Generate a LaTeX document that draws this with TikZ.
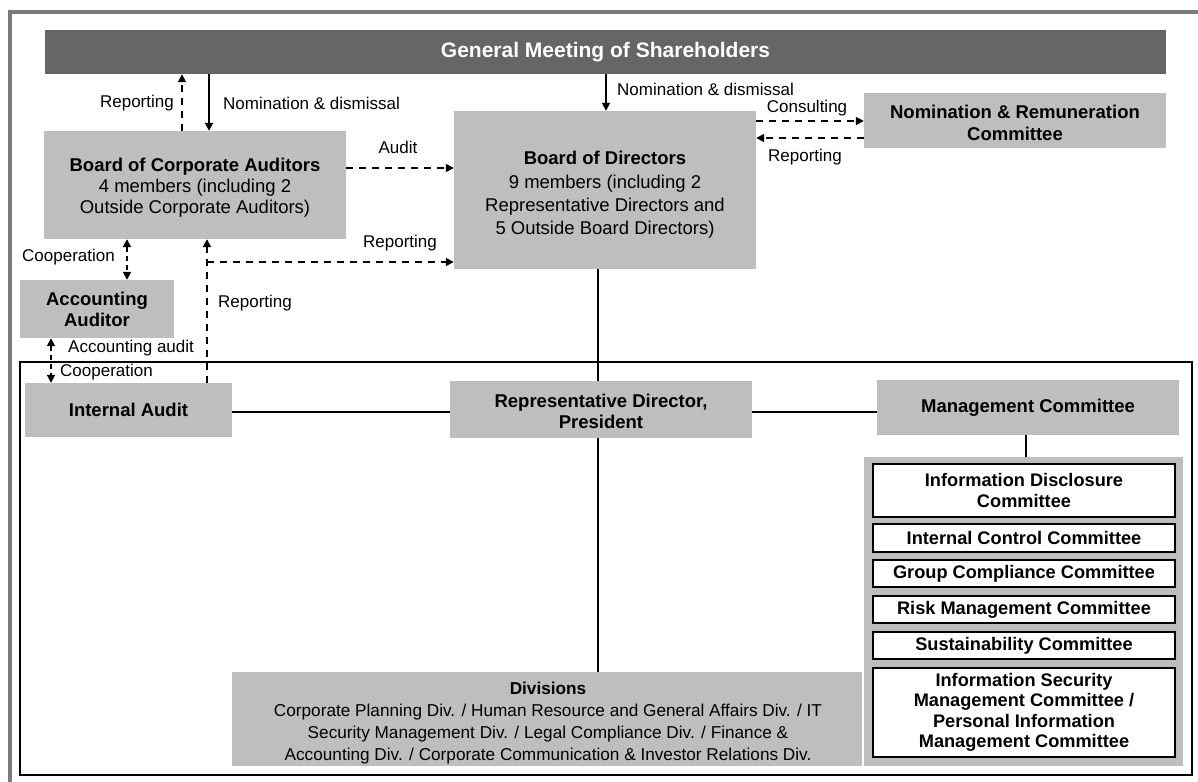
\documentclass[tikz,border=0pt]{standalone}
\usepackage{fontspec}
\setmainfont{Liberation Sans}
\usetikzlibrary{arrows.meta,calc}

\definecolor{boxgray}{HTML}{BEBEBE}
\definecolor{headgray}{HTML}{666666}
\definecolor{framegray}{HTML}{7A7A7A}

\begin{document}
\begin{tikzpicture}[x=1pt,y=-1pt,
  box/.style={fill=boxgray, inner sep=0pt, align=center,
    font=\fontsize{18.5}{21}\selectfont},
  boxtext/.style={inner sep=0pt, align=center, font=\fontsize{18.5}{21}\selectfont},
  cbox/.style={fill=white, draw=black, line width=1.6, inner sep=0pt,
    align=center, minimum width=302, font=\fontsize{18.2}{20.5}\selectfont\bfseries},
  lbl/.style={inner sep=0pt, font=\fontsize{17}{20}\selectfont},
  link/.style={line width=1.8},
  arr/.style={line width=1.8, -{Triangle[length=8pt,width=8pt]}},
  darr/.style={line width=1.8, dash pattern=on 7pt off 6pt, -{Triangle[length=8pt,width=8pt]}},
  dboth/.style={line width=1.8, dash pattern=on 5pt off 4pt,
    {Triangle[length=8pt,width=8pt]}-{Triangle[length=8pt,width=8pt]}},
]
\useasboundingbox (0,0) rectangle (1198,781);

% outer frame
\draw[framegray, line width=4] (1210,12) -- (9.5,12) -- (9.5,800);

% executive area frame
\draw[line width=2] (20,362) rectangle (1192,775);

% levels and columns used by connectors
\coordinate (yAudit) at (0,168);
\coordinate (yRepB) at (0,262);
\coordinate (yCons) at (0,121);
\coordinate (yRepN) at (0,138);
\coordinate (yRow) at (0,412);
\coordinate (xNomA) at (209,0);
\coordinate (xRepA) at (182,0);
\coordinate (xIA) at (207,0);
\coordinate (xCoop) at (127,0);
\coordinate (xAcc) at (51,0);
\coordinate (xNomD) at (606,0);
\coordinate (xSpine) at (598,0);
\coordinate (xMC) at (1026,0);

% boxes
\node[fill=headgray, minimum width=1121, minimum height=44, inner sep=0pt,
  text=white, font=\fontsize{21}{25}\selectfont\bfseries] (gm) at (605.5,52)
  {General Meeting of Shareholders};

\node[box, minimum width=302, minimum height=108] (bca) at (195,185) {};
\node[boxtext] (bcaT) at (195,188)
  {\textbf{Board of Corporate Auditors}\\ 4 members (including 2\\ Outside Corporate Auditors)};

\node[box, minimum width=302, minimum height=158] (bod) at (605,190) {};
\node[boxtext, font=\fontsize{18.5}{23.3}\selectfont] (bodT) at (605,195)
  {\textbf{Board of Directors}\\ 9 members (including 2\\ Representative Directors and\\ 5 Outside Board Directors)};

\node[box, minimum width=302, minimum height=55] (nrc) at (1015,120.5) {};
\node[boxtext, font=\fontsize{18.5}{22}\selectfont\bfseries] (nrcT) at (1015,122.5)
  {Nomination \& Remuneration\\ Committee};

\node[box, minimum width=154, minimum height=58, font=\fontsize{18.5}{21}\selectfont\bfseries]
  (aa) at (97,309) {Accounting\\ Auditor};

\node[box, minimum width=207, minimum height=54, font=\fontsize{18.5}{21}\selectfont\bfseries]
  (ia) at (128.5,410) {Internal Audit};

\node[box, minimum width=302, minimum height=57] (rdp) at (601,409.5) {};
\node[boxtext, font=\fontsize{18.5}{21}\selectfont\bfseries] (rdpT) at (601,411.5)
  {Representative Director,\\ President};

\node[box, minimum width=302, minimum height=55, font=\fontsize{18.5}{21}\selectfont\bfseries]
  (mc) at (1028,407.5) {Management Committee};

\node[box, minimum width=630, minimum height=94] (div) at (547,719) {};
\node[boxtext, font=\fontsize{17.2}{21.7}\selectfont] (divT) at (548,723)
  {\textbf{Divisions}\\ Corporate Planning Div. / Human Resource and General Affairs Div. / IT\\
   Security Management Div. / Legal Compliance Div. / Finance \&\\
   Accounting Div. / Corporate Communication \& Investor Relations Div.};

% committees under the Management Committee
\node[fill=boxgray, minimum width=319, minimum height=309, inner sep=0pt] (grp) at (1023.5,611.5) {};
\node[cbox, minimum height=53] (c1) at (1024,490.5) {Information Disclosure\\ Committee};
\node[cbox, minimum height=28] (c2) at (1024,538) {Internal Control Committee};
\node[cbox, minimum height=27] (c3) at (1024,573.5) {Group Compliance Committee};
\node[cbox, minimum height=27] (c4) at (1024,609.5) {Risk Management Committee};
\node[cbox, minimum height=27] (c5) at (1024,645.5) {Sustainability Committee};
\node[cbox, minimum height=89] (c6) at (1024,712.5)
  {Information Security\\ Management Committee /\\ Personal Information\\ Management Committee};

% nomination and reporting with the shareholders
\draw[arr] (gm.south -| xNomD) -- (bod.north -| xNomD);
\draw[arr] (gm.south -| xNomA) -- (bca.north -| xNomA);
\draw[darr] (bca.north -| xRepA) -- (gm.south -| xRepA);
\node[lbl, anchor=east] (lRepGM) at (174,103) {Reporting};
\node[lbl, anchor=west] (lNomA) at (223,103) {Nomination \& dismissal};
\node[lbl, anchor=west] (lNomD) at (617,89) {Nomination \& dismissal};

% audit, consulting
\draw[darr] (bca.east |- yAudit) -- (bod.west |- yAudit);
\node[lbl] (lAudit) at (398,147) {Audit};
\draw[darr] (bod.east |- yCons) -- (nrc.west |- yCons);
\draw[darr] (nrc.west |- yRepN) -- (bod.east |- yRepN);
\node[lbl] (lCons) at (807,108) {Consulting};
\node[lbl] (lRepN) at (805,157) {Reporting};

% cooperation with the accounting auditor
\draw[dboth] (bca.south -| xCoop) -- (aa.north -| xCoop);
\node[lbl, anchor=east] (lCoop1) at (115,257) {Cooperation};
\draw[dboth] (aa.south -| xAcc) -- (ia.north -| xAcc);
\node[lbl, anchor=west] (lAcc) at (68,348) {Accounting audit};
\node[lbl, anchor=west] (lCoop2) at (60,372) {Cooperation};

% internal audit reporting
\draw[darr] (ia.north -| xIA) -- (bca.south -| xIA);
\draw[darr] (xIA |- yRepB) -- (bod.west |- yRepB);
\node[lbl] (lRepB) at (400,243) {Reporting};
\node[lbl, anchor=west] (lRepIA) at (218,303) {Reporting};

% executive lines
\draw[link] (bod.south -| xSpine) -- (rdp.north -| xSpine);
\draw[link] (rdp.south -| xSpine) -- (div.north -| xSpine);
\draw[link] (ia.east |- yRow) -- (rdp.west |- yRow);
\draw[link] (rdp.east |- yRow) -- (mc.west |- yRow);
\draw[link] (mc.south -| xMC) -- (grp.north -| xMC);
\end{tikzpicture}
\end{document}
